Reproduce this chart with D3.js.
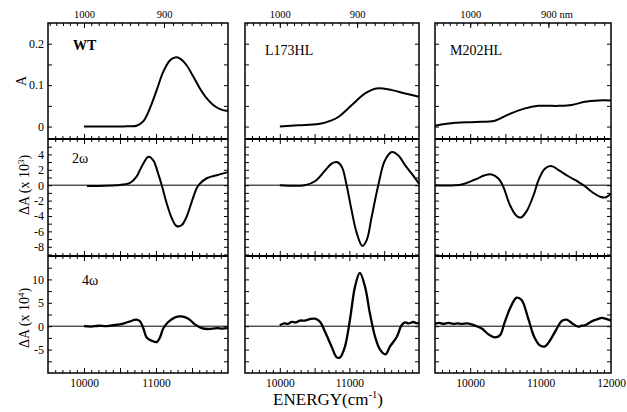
<!DOCTYPE html>
<html>
<head>
<meta charset="utf-8">
<script src="https://cdn.jsdelivr.net/npm/d3@7"></script>
<style>
	body { margin: 0; background: #fff; }
	svg, svg text { font-family: "Liberation Serif", "DejaVu Serif", "Times New Roman", serif; fill: #000; }
</style>
</head>
<body>
<div id="chartCtn"></div>
<script>
// energies in cm-1
var wtAbsE = [ 10000, 10200, 10400, 10600, 10730, 10825, 10915, 11010, 11100, 11195, 11265, 11335, 11425, 11520, 11610, 11705, 11795, 11890, 11980, 12000 ];
var wtAbsA = [ 0, 0, 0, 0.001, 0.002, 0.013, 0.044, 0.088, 0.132, 0.160, 0.167, 0.164, 0.148, 0.120, 0.092, 0.068, 0.052, 0.042, 0.038, 0.039 ];
var lAbsE = [ 10000, 10265, 10555, 10745, 10840, 11035, 11225, 11390, 11610, 11800, 12000 ];
var lAbsA = [ 0, 0.003, 0.006, 0.015, 0.023, 0.052, 0.080, 0.092, 0.088, 0.080, 0.072 ];
var mAbsE = [ 9500, 9785, 10070, 10350, 10540, 10780, 10970, 11250, 11440, 11630, 11820, 12000 ];
var mAbsA = [ 0.002, 0.009, 0.011, 0.014, 0.029, 0.044, 0.050, 0.050, 0.052, 0.060, 0.063, 0.063 ];

var wt2wE = [ 10040, 10455, 10640, 10730, 10800, 10895, 10965, 11030, 11080, 11150, 11220, 11285, 11355, 11425, 11495, 11565, 11610, 11705, 11845, 12000 ];
var wt2wV = [ -0.1, 0, 0.3, 1.1, 2.4, 3.7, 3.2, 1.5, 0, -2.4, -4.3, -5.3, -5.2, -4.1, -2.2, -0.4, 0.2, 0.9, 1.3, 1.7 ];
var l2wE = [ 10000, 10360, 10510, 10650, 10745, 10820, 10890, 10960, 11030, 11105, 11185, 11250, 11320, 11415, 11510, 11610, 11700, 11800, 11895, 12000 ];
var l2wV = [ 0, 0, 0.55, 1.9, 2.8, 3.0, 2.4, 0, -3.2, -6.2, -7.9, -7.1, -4.1, 0, 3.2, 4.3, 3.9, 2.6, 1.5, 0.2 ];
var m2wE = [ 9500, 9880, 10070, 10210, 10305, 10400, 10470, 10565, 10660, 10720, 10800, 10900, 10970, 11060, 11150, 11250, 11395, 11535, 11630, 11725, 11845, 11915, 12000 ];
var m2wV = [ 0, 0.1, 0.74, 1.3, 1.4, 0.86, -0.2, -2.6, -4.0, -4.2, -3.4, -1.3, 0.65, 2.15, 2.5, 2.0, 1.16, 0.43, -0.13, -0.86, -1.5, -1.6, -1.1 ];

var wt4wE = [ 10000, 10100, 10200, 10300, 10400, 10500, 10615, 10730, 10780, 10825, 10870, 10940, 11010, 11055, 11100, 11170, 11265, 11355, 11450, 11540, 11635, 11725, 11845, 11920, 12000 ];
var wt4wV = [ 0, -0.1, 0.1, 0, 0.2, 0.4, 0.9, 1.4, 1.0, -0.5, -2.4, -3.1, -3.4, -2.4, -0.5, 0.9, 1.9, 2.1, 1.6, 0.4, -0.4, -0.6, -0.4, -0.5, -0.4 ];
var l4wE = [ 10000, 10060, 10120, 10170, 10230, 10290, 10360, 10430, 10505, 10580, 10650, 10745, 10815, 10865, 10935, 11010, 11080, 11150, 11225, 11295, 11370, 11440, 11520, 11580, 11680, 11750, 11800, 11850, 11920, 11970, 12000 ];
var l4wV = [ 0.2, 0.6, 0.5, 0.9, 0.8, 1.2, 1.2, 1.5, 1.6, 0.9, -1.2, -4.4, -6.6, -6.7, -4.4, 1.6, 8.4, 11.4, 8.4, 2.7, -2.3, -5.0, -6.0, -4.4, -2.3, 0.2, 0.8, 0.6, 0.9, 0.6, 0.8 ];
var m4wE = [ 9500, 9560, 9620, 9690, 9760, 9820, 9880, 9950, 10020, 10090, 10165, 10255, 10350, 10425, 10485, 10565, 10660, 10730, 10825, 10910, 10990, 11060, 11135, 11230, 11300, 11370, 11440, 11535, 11580, 11630, 11690, 11750, 11810, 11870, 11940, 12000 ];
var m4wV = [ 0.5, 0.7, 0.5, 0.7, 0.5, 0.6, 0.5, 0.6, 0.4, 0.0, -0.5, -1.7, -2.4, -1.9, 0.6, 3.8, 6.1, 5.6, 1.6, -2.3, -4.1, -4.3, -3.0, -0.5, 1.1, 1.4, 0.7, -0.1, 0.1, 0.2, 0.7, 1.2, 1.5, 1.8, 1.5, 1.2 ];

var sampleNames = [ 'WT', 'L173HL', 'M202HL' ];
var rowNames = [ null, '2\u03c9', '4\u03c9' ];
var yTicks = [ [ 0, 0.05, 0.1, 0.15, 0.2 ], d3.range( -9, 6, 1 ), [ -7.5, -5, -2.5, 0, 2.5, 5, 7.5, 10, 12.5 ] ];
var yTickLabels = [ [ 0, 0.1, 0.2 ], [ 4, 2, 0, -2, -4, -6, -8 ], [ 10, 5, 0, -5 ] ];
var nmTicks = d3.range( 840, 1051, 10 );
var nmLabels = [ 1000, 900 ];
var energyLabels = [ [ 10000, 11000 ], [ 10000, 11000 ], [ 10000, 11000, 12000 ] ];

var series = [
	[ [ wtAbsE, wtAbsA ], [ lAbsE, lAbsA ], [ mAbsE, mAbsA ] ],
	[ [ wt2wE, wt2wV ], [ l2wE, l2wV ], [ m2wE, m2wV ] ],
	[ [ wt4wE, wt4wV ], [ l4wE, l4wV ], [ m4wE, m4wV ] ]
];

var width = 627, height = 412;
var serif = '"Liberation Serif", "DejaVu Serif", serif';
var cols = [ [ 48, 228 ], [ 245, 419 ], [ 435, 611 ] ];
var rows = [ [ 23, 139 ], [ 139, 256 ], [ 256, 373 ] ];
var yDomains = [ [ -0.03, 0.25 ], [ -9.2, 6 ], [ -10, 15 ] ];

var svg = d3.select( '#chartCtn' ).append( 'svg' )
	.attr( 'width', width )
	.attr( 'height', height )
	.attr( 'font-family', serif );

function styleAxis( g ) {
	g.attr( 'font-family', serif );
	g.select( '.domain' ).remove();
	g.selectAll( 'line' ).attr( 'stroke', '#000' ).attr( 'stroke-width', 1 );
	g.selectAll( 'text' ).attr( 'fill', '#000' ).style( 'font-family', serif );
}

cols.forEach( function ( col, c ) {
	var x = d3.scaleLinear().domain( [ 9500, 12000 ] ).range( col );
	var majors = [ 10000, 10500, 11000, 11500 ];
	var minors = d3.range( 9600, 12000, 100 ).filter( function ( e ) { return majors.indexOf( e ) < 0; } );

	rows.forEach( function ( row, r ) {
		var y = d3.scaleLinear().domain( yDomains[ r ] ).range( [ row[ 1 ], row[ 0 ] ] );
		var g = svg.append( 'g' );

		// zero line
		if ( r > 0 ) {
			g.append( 'line' )
				.attr( 'x1', col[ 0 ] ).attr( 'x2', col[ 1 ] )
				.attr( 'y1', y( 0 ) ).attr( 'y2', y( 0 ) )
				.attr( 'stroke', '#000' ).attr( 'stroke-width', 1 );
		}

		// bottom ticks (energy)
		g.append( 'g' ).attr( 'transform', `translate(0,${ row[ 1 ] })` )
			.call( d3.axisBottom( x ).tickValues( majors ).tickSizeInner( -5 ).tickSizeOuter( 0 ).tickFormat( '' ) )
			.call( styleAxis );
		g.append( 'g' ).attr( 'transform', `translate(0,${ row[ 1 ] })` )
			.call( d3.axisBottom( x ).tickValues( minors ).tickSizeInner( -3 ).tickSizeOuter( 0 ).tickFormat( '' ) )
			.call( styleAxis );

		// top ticks
		if ( r === 0 ) {
			g.append( 'g' ).attr( 'transform', `translate(0,${ row[ 0 ] })` )
				.call( d3.axisTop( x ).tickValues( nmTicks.map( function ( n ) { return 1e7 / n; } ) )
					.tickSizeInner( -3 ).tickSizeOuter( 0 ).tickFormat( '' ) )
				.call( styleAxis );
			g.append( 'g' ).attr( 'transform', `translate(0,${ row[ 0 ] })` )
				.call( d3.axisTop( x ).tickValues( nmLabels.map( function ( n ) { return 1e7 / n; } ) )
					.tickSizeInner( -5 ).tickSizeOuter( 0 ).tickPadding( 5 )
					.tickFormat( function ( d ) { return Math.round( 1e7 / d ); } ) )
				.call( styleAxis )
				.selectAll( 'text' ).style( 'font-size', '10.5px' );
			if ( c === 2 ) {
				svg.append( 'text' )
					.attr( 'x', x( 1e7 / 900 ) + 11 )
					.attr( 'y', row[ 0 ] - 5 )
					.style( 'font-size', '10.5px' )
					.text( 'nm' );
			}
		} else {
			g.append( 'g' ).attr( 'transform', `translate(0,${ row[ 0 ] })` )
				.call( d3.axisTop( x ).tickValues( majors ).tickSizeInner( -5 ).tickSizeOuter( 0 ).tickFormat( '' ) )
				.call( styleAxis );
			g.append( 'g' ).attr( 'transform', `translate(0,${ row[ 0 ] })` )
				.call( d3.axisTop( x ).tickValues( minors ).tickSizeInner( -3 ).tickSizeOuter( 0 ).tickFormat( '' ) )
				.call( styleAxis );
		}

		// energy labels under the last row
		if ( r === 2 ) {
			g.append( 'g' ).attr( 'transform', `translate(0,${ row[ 1 ] })` )
				.call( d3.axisBottom( x ).tickValues( energyLabels[ c ] ).tickSize( 0 ).tickPadding( 6 ).tickFormat( d3.format( 'd' ) ) )
				.call( styleAxis )
				.selectAll( 'text' ).style( 'font-size', '11.5px' );
		}

		// left and right ticks
		var labelled = yTickLabels[ r ];
		g.append( 'g' ).attr( 'transform', `translate(${ col[ 0 ] },0)` )
			.call( d3.axisLeft( y ).tickValues( yTicks[ r ] ).tickSizeOuter( 0 ).tickPadding( 4 )
				.tickSizeInner( -4 )
				.tickFormat( function ( d ) { return ( c === 0 && labelled.indexOf( d ) >= 0 ) ? String( d ) : ''; } ) )
			.call( styleAxis )
			.selectAll( 'text' ).style( 'font-size', '12px' );
		g.append( 'g' ).attr( 'transform', `translate(${ col[ 1 ] },0)` )
			.call( d3.axisRight( y ).tickValues( yTicks[ r ] ).tickSizeInner( -4 ).tickSizeOuter( 0 ).tickFormat( '' ) )
			.call( styleAxis );

		// the trace
		var pts = d3.zip( series[ r ][ c ][ 0 ], series[ r ][ c ][ 1 ] );
		var line = d3.line()
			.x( function ( d ) { return x( d[ 0 ] ); } )
			.y( function ( d ) { return y( d[ 1 ] ); } )
			.curve( d3.curveCatmullRom.alpha( 0.5 ) );
		g.append( 'path' )
			.datum( pts )
			.attr( 'd', line )
			.attr( 'fill', 'none' )
			.attr( 'stroke', '#000' )
			.attr( 'stroke-width', r === 2 ? 2.3 : 2 )
			.attr( 'stroke-linejoin', 'round' );
	} );

	// frame
	svg.append( 'rect' )
		.attr( 'x', col[ 0 ] ).attr( 'y', rows[ 0 ][ 0 ] )
		.attr( 'width', col[ 1 ] - col[ 0 ] ).attr( 'height', rows[ 2 ][ 1 ] - rows[ 0 ][ 0 ] )
		.attr( 'fill', 'none' ).attr( 'stroke', '#000' ).attr( 'stroke-width', 1.5 );
	[ rows[ 0 ][ 1 ], rows[ 1 ][ 1 ] ].forEach( function ( yy ) {
		svg.append( 'line' )
			.attr( 'x1', col[ 0 ] ).attr( 'x2', col[ 1 ] )
			.attr( 'y1', yy ).attr( 'y2', yy )
			.attr( 'stroke', '#000' ).attr( 'stroke-width', 2 );
	} );
} );

// panel names
svg.append( 'text' ).attr( 'x', 73 ).attr( 'y', 50 ).style( 'font-size', '14px' ).style( 'font-weight', 'bold' ).text( sampleNames[ 0 ] );
svg.append( 'text' ).attr( 'x', 265 ).attr( 'y', 55 ).style( 'font-size', '14px' ).text( sampleNames[ 1 ] );
svg.append( 'text' ).attr( 'x', 450 ).attr( 'y', 55 ).style( 'font-size', '14px' ).text( sampleNames[ 2 ] );
svg.append( 'text' ).attr( 'x', 72 ).attr( 'y', 163 ).style( 'font-size', '14px' ).text( rowNames[ 1 ] );
svg.append( 'text' ).attr( 'x', 82 ).attr( 'y', 285 ).style( 'font-size', '14px' ).text( rowNames[ 2 ] );

// y titles
svg.append( 'text' ).attr( 'transform', 'translate(26,81) rotate(-90)' )
	.attr( 'text-anchor', 'middle' ).style( 'font-size', '14px' ).text( 'A' );
var t2 = svg.append( 'text' ).attr( 'transform', 'translate(29,185) rotate(-90)' )
	.attr( 'text-anchor', 'middle' ).style( 'font-size', '14px' );
t2.append( 'tspan' ).text( '\u0394A (x 10' );
t2.append( 'tspan' ).attr( 'dy', -5 ).style( 'font-size', '9px' ).text( '3' );
t2.append( 'tspan' ).attr( 'dy', 5 ).text( ')' );
var t3 = svg.append( 'text' ).attr( 'transform', 'translate(29,318) rotate(-90)' )
	.attr( 'text-anchor', 'middle' ).style( 'font-size', '14px' );
t3.append( 'tspan' ).text( '\u0394A (x 10' );
t3.append( 'tspan' ).attr( 'dy', -5 ).style( 'font-size', '9px' ).text( '4' );
t3.append( 'tspan' ).attr( 'dy', 5 ).text( ')' );

// x title
var xt = svg.append( 'text' ).attr( 'x', 328 ).attr( 'y', 405 )
	.attr( 'text-anchor', 'middle' ).style( 'font-size', '17px' );
xt.append( 'tspan' ).text( 'ENERGY(cm' );
xt.append( 'tspan' ).attr( 'dy', -7 ).style( 'font-size', '10.5px' ).text( '-1' );
xt.append( 'tspan' ).attr( 'dy', 7 ).text( ')' );
</script>
</body>
</html>
